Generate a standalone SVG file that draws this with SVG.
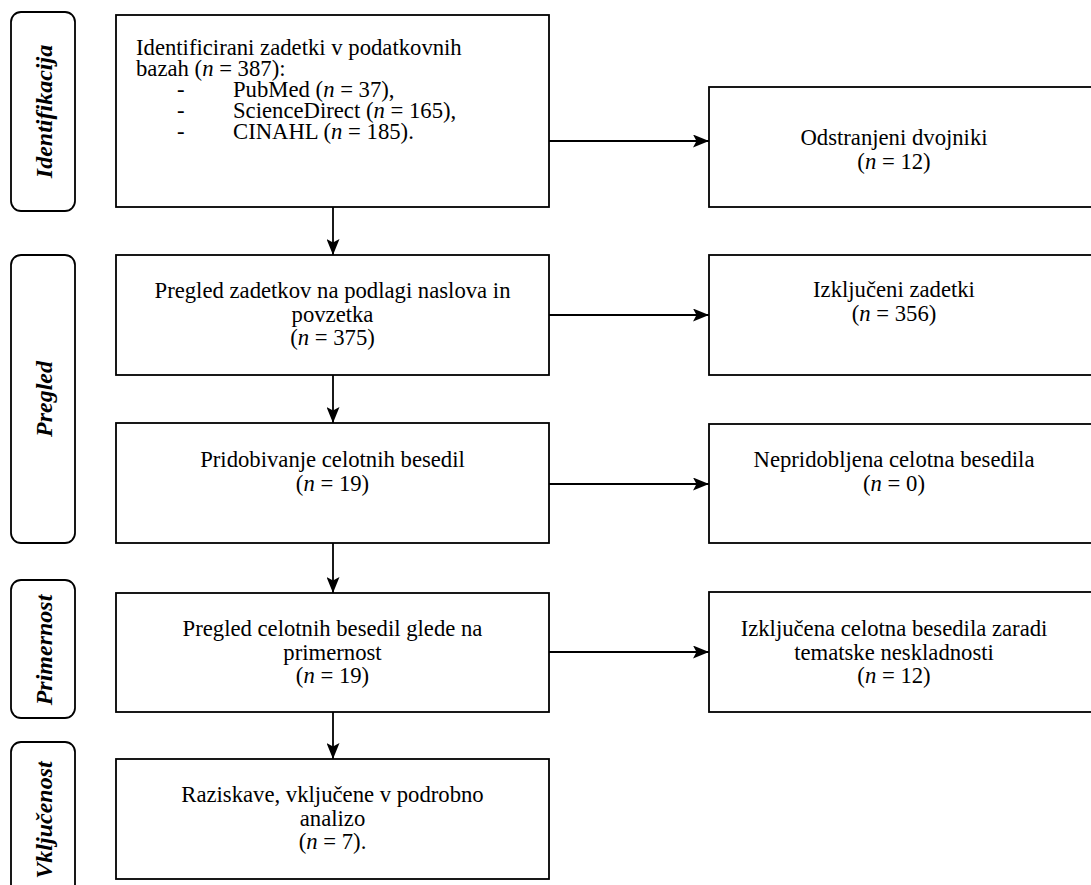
<svg xmlns="http://www.w3.org/2000/svg" width="1091" height="885" viewBox="0 0 1091 885">
<style>
.box{fill:#fff;stroke:#000;stroke-width:1.8}
.side{fill:#fff;stroke:#000;stroke-width:1.8}
.t{font-family:"Liberation Serif","Times New Roman",serif;font-size:22.7px;fill:#000}
.c{text-anchor:middle}
.lab{font-family:"Liberation Serif","Times New Roman",serif;font-size:24px;font-weight:bold;font-style:italic;text-anchor:middle;fill:#000}
.i{font-style:italic}
.con{stroke:#000;stroke-width:1.8;fill:none}
</style>
<defs>
<marker id="ah" viewBox="0 0 16 13" refX="16" refY="6.5" markerWidth="16" markerHeight="13" markerUnits="userSpaceOnUse" orient="auto">
<path d="M0,0 L16,6.5 L0,13 L3.5,6.5 Z" fill="#000"/>
</marker>
</defs>

<g id="side-identifikacija">
<rect class="side" x="11" y="12" width="64" height="199" rx="10"/>
<text class="lab" transform="translate(51.5,111.5) rotate(-90)">Identifikacija</text>
</g>
<g id="side-pregled">
<rect class="side" x="11" y="255" width="64" height="288" rx="10"/>
<text class="lab" transform="translate(51.5,399) rotate(-90)">Pregled</text>
</g>
<g id="side-primernost">
<rect class="side" x="11" y="580" width="64" height="138" rx="10"/>
<text class="lab" transform="translate(51.5,650) rotate(-90)">Primernost</text>
</g>
<g id="side-vkljucenost">
<rect class="side" x="11" y="742" width="64" height="160" rx="10"/>
<text class="lab" transform="translate(51.5,820) rotate(-90)">Vključenost</text>
</g>

<g id="connectors">
<line class="con" x1="333" y1="207" x2="333" y2="255" marker-end="url(#ah)"/>
<line class="con" x1="333" y1="375" x2="333" y2="423" marker-end="url(#ah)"/>
<line class="con" x1="333" y1="543" x2="333" y2="593" marker-end="url(#ah)"/>
<line class="con" x1="333" y1="712" x2="333" y2="759" marker-end="url(#ah)"/>
<line class="con" x1="549" y1="141" x2="709" y2="141" marker-end="url(#ah)"/>
<line class="con" x1="549" y1="315" x2="709" y2="315" marker-end="url(#ah)"/>
<line class="con" x1="549" y1="484" x2="709" y2="484" marker-end="url(#ah)"/>
<line class="con" x1="549" y1="652" x2="709" y2="652" marker-end="url(#ah)"/>
</g>

<g id="identificirani">
<rect class="box" x="116" y="15" width="433" height="192"/>
<text class="t" x="136" y="55">Identificirani zadetki v podatkovnih</text>
<text class="t" x="136" y="76">bazah (<tspan class="i">n</tspan> = 387):</text>
<text class="t" x="177" y="97">-</text>
<text class="t" x="233" y="97">PubMed (<tspan class="i">n</tspan> = 37),</text>
<text class="t" x="177" y="118">-</text>
<text class="t" x="233" y="118">ScienceDirect (<tspan class="i">n</tspan> = 165),</text>
<text class="t" x="177" y="139">-</text>
<text class="t" x="233" y="139">CINAHL (<tspan class="i">n</tspan> = 185).</text>
</g>

<g id="odstranjeni">
<rect class="box" x="709" y="87" width="400" height="120"/>
<text class="t c" x="894" y="145">Odstranjeni dvojniki</text>
<text class="t c" x="894" y="168.5">(<tspan class="i">n</tspan> = 12)</text>
</g>

<g id="pregled-zadetkov">
<rect class="box" x="116" y="255" width="433" height="120"/>
<text class="t c" x="332.5" y="298">Pregled zadetkov na podlagi naslova in</text>
<text class="t c" x="332.5" y="321.5">povzetka</text>
<text class="t c" x="332.5" y="345">(<tspan class="i">n</tspan> = 375)</text>
</g>

<g id="izkljuceni">
<rect class="box" x="709" y="255" width="400" height="120"/>
<text class="t c" x="894" y="297">Izključeni zadetki</text>
<text class="t c" x="894" y="320.5">(<tspan class="i">n</tspan> = 356)</text>
</g>

<g id="pridobivanje">
<rect class="box" x="116" y="423" width="433" height="120"/>
<text class="t c" x="332.5" y="467">Pridobivanje celotnih besedil</text>
<text class="t c" x="332.5" y="490.5">(<tspan class="i">n</tspan> = 19)</text>
</g>

<g id="nepridobljena">
<rect class="box" x="709" y="424" width="400" height="119"/>
<text class="t c" x="894" y="467">Nepridobljena celotna besedila</text>
<text class="t c" x="894" y="490.5">(<tspan class="i">n</tspan> = 0)</text>
</g>

<g id="pregled-celotnih">
<rect class="box" x="116" y="593" width="433" height="119"/>
<text class="t c" x="332.5" y="636">Pregled celotnih besedil glede na</text>
<text class="t c" x="332.5" y="659.5">primernost</text>
<text class="t c" x="332.5" y="683">(<tspan class="i">n</tspan> = 19)</text>
</g>

<g id="izkljucena-celotna">
<rect class="box" x="709" y="592" width="400" height="120"/>
<text class="t c" x="894" y="636">Izključena celotna besedila zaradi</text>
<text class="t c" x="894" y="659.5">tematske neskladnosti</text>
<text class="t c" x="894" y="683">(<tspan class="i">n</tspan> = 12)</text>
</g>

<g id="raziskave">
<rect class="box" x="116" y="759" width="433" height="120"/>
<text class="t c" x="332.5" y="802">Raziskave, vključene v podrobno</text>
<text class="t c" x="332.5" y="825.5">analizo</text>
<text class="t c" x="332.5" y="849">(<tspan class="i">n</tspan> = 7).</text>
</g>
</svg>
